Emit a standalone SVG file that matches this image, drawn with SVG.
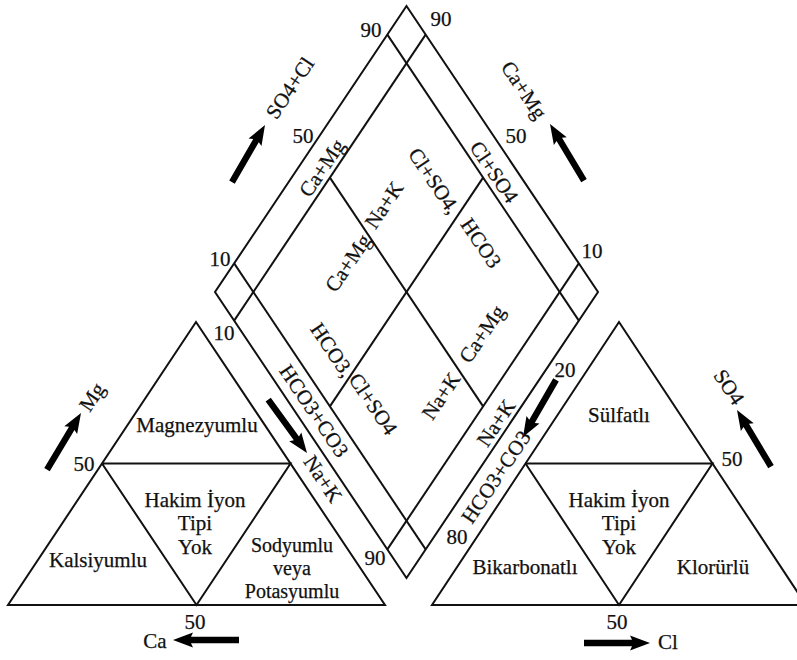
<svg xmlns="http://www.w3.org/2000/svg" xmlns:xlink="http://www.w3.org/1999/xlink" width="797" height="660" viewBox="0 0 797 660">
<style>
.ln{fill:none;stroke:#111;stroke-width:2;stroke-linejoin:miter}
text{font-family:"Liberation Serif","Times New Roman",serif;font-size:21px;fill:#111;stroke:#111;stroke-width:0.25;text-anchor:middle;dominant-baseline:central}
.sm{font-size:20px}
.ar{fill:#000}
</style>
<defs>
<path id="arr" d="M0,0 L-20,-7.5 L-18,-3.2 L-66,-3.2 L-66,3.2 L-18,3.2 L-20,7.5 Z"/>
</defs>
<rect width="797" height="660" fill="#fff"/>
<g id="diamond">
<polygon class="ln" points="406.5,6 598,292 406.5,578 215,292"/>
<line class="ln" x1="234.15" y1="263.4" x2="425.65" y2="549.4"/>
<line class="ln" x1="387.35" y1="34.6" x2="578.85" y2="320.6"/>
<line class="ln" x1="234.15" y1="320.6" x2="425.65" y2="34.6"/>
<line class="ln" x1="387.35" y1="549.4" x2="578.85" y2="263.4"/>
<line class="ln" x1="329.9" y1="177.6" x2="483.1" y2="406.4"/>
<line class="ln" x1="329.9" y1="406.4" x2="483.1" y2="177.6"/>
<text x="371" y="30">90</text>
<text x="441" y="19">90</text>
<text x="303" y="136">50</text>
<text x="516" y="136">50</text>
<text x="220" y="259">10</text>
<text x="592" y="251">10</text>
<text x="224" y="333">10</text>
<text x="375" y="558">90</text>
<text x="565" y="370">20</text>
<text x="457" y="537">80</text>
<text transform="translate(290,88) rotate(-56)">SO4+Cl</text>
<text transform="translate(524,90) rotate(56)">Ca+Mg</text>
<text transform="translate(322,168) rotate(-56)">Ca+Mg</text>
<text transform="translate(384,205) rotate(-56)">Na+K</text>
<text transform="translate(434,181) rotate(56)">Cl+SO4,</text>
<text transform="translate(494,172) rotate(56)">Cl+SO4</text>
<text transform="translate(481,243) rotate(56)">HCO3</text>
<text transform="translate(348,263) rotate(-56)">Ca+Mg</text>
<text transform="translate(332,350) rotate(56)">HCO3,</text>
<text transform="translate(373,404) rotate(56)">Cl+SO4</text>
<text transform="translate(441,396) rotate(-56)">Na+K</text>
<text transform="translate(482,334) rotate(-56)">Ca+Mg</text>
<text transform="translate(496,423) rotate(-56)">Na+K</text>
<text transform="translate(314,411) rotate(56)">HCO3+CO3</text>
<text transform="translate(496,477) rotate(-56)">HCO3+CO3</text>
<text transform="translate(323,479) rotate(56)">Na+K</text>
</g>
<g id="cation-triangle">
<polygon class="ln" points="196,322 385,605 8,605"/>
<polyline class="ln" points="102,463.5 290.5,463.5 196.5,605 102,463.5"/>
<text x="197" y="425">Magnezyumlu</text>
<text x="195" y="500">Hakim İyon</text>
<text x="195" y="523">Tipi</text>
<text x="195" y="547">Yok</text>
<text x="98" y="560">Kalsiyumlu</text>
<text class="sm" x="292" y="545">Sodyumlu</text>
<text class="sm" x="292" y="568">veya</text>
<text class="sm" x="292" y="591">Potasyumlu</text>
<text x="84" y="464">50</text>
<text x="195" y="622">50</text>
<text x="155" y="641">Ca</text>
<text transform="translate(92,397) rotate(-56)">Mg</text>
</g>
<g id="anion-triangle">
<polygon class="ln" points="619,322 806,605 432,605"/>
<polyline class="ln" points="525.5,463.5 712.5,463.5 619,605 525.5,463.5"/>
<text x="619" y="415">Sülfatlı</text>
<text x="619" y="500">Hakim İyon</text>
<text x="619" y="523">Tipi</text>
<text x="619" y="547">Yok</text>
<text x="525" y="567">Bikarbonatlı</text>
<text x="713" y="567">Klorürlü</text>
<text x="732" y="459">50</text>
<text x="617" y="622">50</text>
<text x="668" y="642">Cl</text>
<text transform="translate(729,387) rotate(56)">SO4</text>
</g>
<g id="connectors">
<use xlink:href="#arr" class="ar" transform="translate(265,125) rotate(-60)"/>
<use xlink:href="#arr" class="ar" transform="translate(550,124) rotate(-121)"/>
<use xlink:href="#arr" class="ar" transform="translate(307,453) rotate(54)"/>
<use xlink:href="#arr" class="ar" transform="translate(523,437) rotate(120)"/>
<use xlink:href="#arr" class="ar" transform="translate(81,413) rotate(-59)"/>
<use xlink:href="#arr" class="ar" transform="translate(173,640) rotate(180)"/>
<use xlink:href="#arr" class="ar" transform="translate(737,410) rotate(-121)"/>
<use xlink:href="#arr" class="ar" transform="translate(650,643) rotate(0)"/>
</g>
</svg>
